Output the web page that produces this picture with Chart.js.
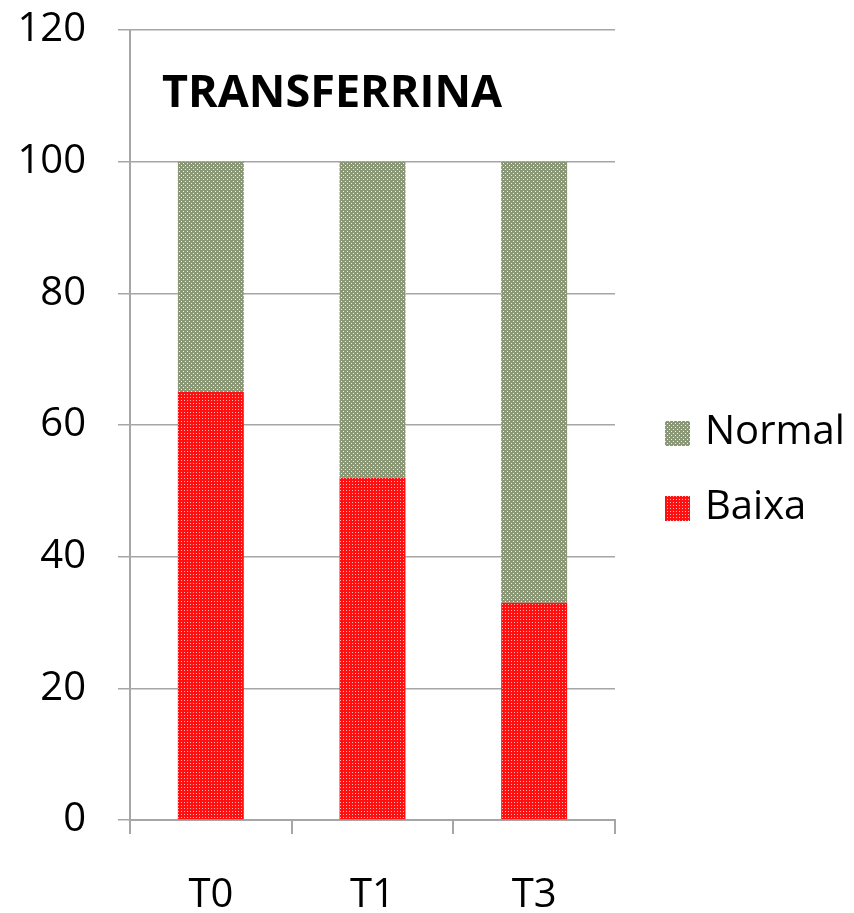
<!DOCTYPE html>
<html lang="pt">
<head>
  <meta charset="UTF-8" />
  <title>Transferrina</title>
  <script src="https://cdn.jsdelivr.net/npm/chart.js"></script>
  <style>
    body { margin: 0; background: #fff; }
    #wrap { width: 854px; height: 913px; }
  </style>
</head>
<body>
  <div id="wrap"><canvas id="chart"></canvas></div>

  <script>
    // data
    const categories = ['T0', 'T1', 'T3'];
    const baixa = [65, 52, 33];
    const normal = [35, 48, 67];
    const yTicks = [0, 20, 40, 60, 80, 100, 120];

    const FONT = "'Open Sans', sans-serif";
    const GRID = '#a6a6a6';

    // small dotted fills like the original
    function makePattern(base, dot, step) {
      const c = document.createElement('canvas');
      c.width = step; c.height = step;
      const g = c.getContext('2d');
      g.fillStyle = base;
      g.fillRect(0, 0, step, step);
      g.fillStyle = dot;
      g.fillRect(1, 1, 1, 1);
      if (step >= 4) g.fillRect(3, 3, 1, 1);
      return g.createPattern(c, 'repeat');
    }
    const greenFill = makePattern('#8a9876', '#f0f4ea', 4);
    const redFill = makePattern('#ff1010', '#ffb8b8', 3);

    const titlePlugin = {
      id: 'inTitle',
      afterDraw(chart) {
        const { ctx, chartArea } = chart;
        ctx.save();
        ctx.font = "bold 45px " + FONT;
        ctx.fillStyle = '#000';
        ctx.textBaseline = 'alphabetic';
        ctx.fillText('TRANSFERRINA', chartArea.left + 32, chartArea.top + 77);
        ctx.restore();
      }
    };

    // legend drawn to the right, Normal on top
    const legendPlugin = {
      id: 'sideLegend',
      afterDraw(chart) {
        const { ctx, chartArea } = chart;
        const items = chart.data.datasets.slice().reverse();
        ctx.save();
        ctx.font = "40px " + FONT;
        ctx.textBaseline = 'middle';
        items.forEach((ds, i) => {
          const x = chartArea.right + 50;
          const y = 433 + i * 75;
          ctx.fillStyle = ds.backgroundColor;
          ctx.fillRect(x, y - 12, 25, 25);
          ctx.fillStyle = '#000';
          ctx.fillText(ds.label, x + 40, y);
        });
        ctx.restore();
      }
    };

    new Chart(document.getElementById('chart'), {
      type: 'bar',
      data: {
        labels: categories,
        datasets: [
          { label: 'Baixa', data: baixa, backgroundColor: redFill },
          { label: 'Normal', data: normal, backgroundColor: greenFill }
        ]
      },
      options: {
        responsive: true,
        maintainAspectRatio: false,
        animation: false,
        categoryPercentage: 1,
        barPercentage: 0.408,
        layout: { padding: { top: 30, right: 239, bottom: 0, left: 0 } },
        plugins: {
          legend: { display: false },
          title: { display: false },
          tooltip: { enabled: false }
        },
        scales: {
          x: {
            stacked: true,
            offset: true,
            grid: {
              offset: true,
              drawOnChartArea: false,
              color: GRID,
              lineWidth: 2,
              tickLength: 14
            },
            border: { color: GRID, width: 2 },
            ticks: { color: '#000', font: { family: FONT, size: 40 }, padding: 38 },
            afterFit(scale) { scale.height = 93; }
          },
          y: {
            stacked: true,
            min: 0,
            max: 120,
            afterBuildTicks(scale) { scale.ticks = yTicks.map(v => ({ value: v })); },
            grid: { color: GRID, lineWidth: 1.5, tickLength: 12 },
            border: { color: GRID, width: 2 },
            ticks: { color: '#000', font: { family: FONT, size: 40 }, padding: 32 },
            afterFit(scale) {
              scale.width = 130;
              scale.paddingTop = 0;
              scale.paddingBottom = 0;
            }
          }
        }
      },
      plugins: [titlePlugin, legendPlugin]
    });
  </script>
</body>
</html>
